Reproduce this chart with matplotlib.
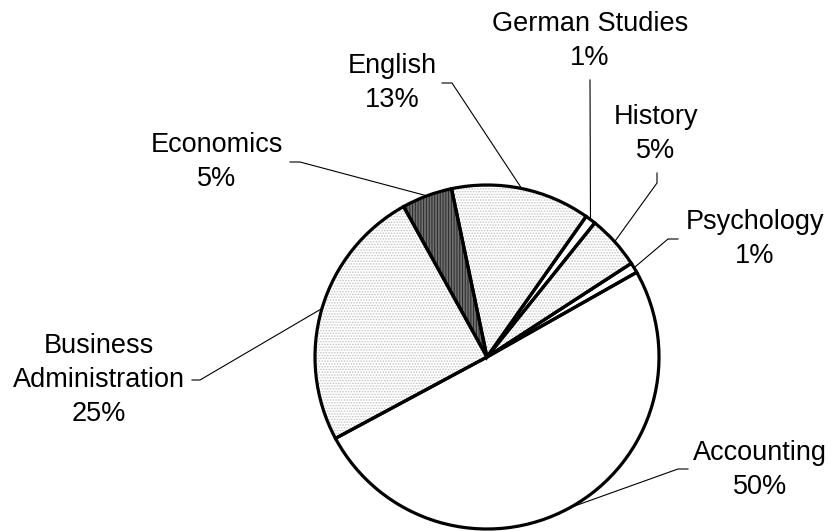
import numpy as np
import matplotlib
matplotlib.use("Agg")
import matplotlib.pyplot as plt
from matplotlib.patches import Wedge

# ---- data ----
majors = ["Accounting", "Business\nAdministration", "Economics", "English",
          "German Studies", "History", "Psychology"]
shares = [50.35, 24.79, 4.75, 13.08, 1.00, 5.06, 0.97]

# ---- styles / layout ----
W, H = 832, 531
fills = ["white", "white", "#6e6e6e", "white", "white", "white", "white"]
hatches = [None, "......", "||||||", "......", None, "......", None]
hatch_cols = [None, "#c2c2c2", "#2a2a2a", "#c2c2c2", None, "#c2c2c2", None]
center_px = (487, 357)
radius_px = 172
start_angle = 29.5

# text centre, line anchor, elbow (pixel coords, y downward)
label_layout = [
    ((760, 470), (688, 469), (678, 469)),
    ((99, 380), (192, 380), (200, 380)),
    ((217, 162), (290, 162), (300, 162)),
    ((392, 83), (442, 83), (452, 83)),
    ((590, 41), (590, 80), (590, 80)),
    ((656, 134), (657, 173), (657, 183)),
    ((755, 239), (678, 239), (668, 239)),
]

plt.rcParams['font.family'] = ['Liberation Sans', 'DejaVu Sans']
plt.rcParams['hatch.linewidth'] = 0.7

fig = plt.figure(figsize=(W / 100, H / 100), dpi=100)
ax = fig.add_axes([0, 0, 1, 1])

cx, cy = center_px[0], H - center_px[1]
wedges, _ = ax.pie(shares, startangle=start_angle, counterclock=False,
                   radius=radius_px, center=(cx, cy),
                   colors=fills,
                   wedgeprops=dict(edgecolor="black", linewidth=2.3))

# hatch overlays (drawn beneath outlines)
for w, h, hc in zip(wedges, hatches, hatch_cols):
    if h is None:
        continue
    ov = Wedge((cx, cy), radius_px, w.theta1, w.theta2, facecolor="none",
               edgecolor=hc, hatch=h, linewidth=0, zorder=w.get_zorder() + 0.1)
    ax.add_patch(ov)
# outlines on top
for w in wedges:
    ol = Wedge((cx, cy), radius_px, w.theta1, w.theta2, facecolor="none",
               edgecolor="black", linewidth=2.3, zorder=w.get_zorder() + 0.2)
    ax.add_patch(ol)
    w.set_edgecolor("none")

pcts = [round(s) for s in shares]
for w, name, p, (tpos, anc, elb) in zip(wedges, majors, pcts, label_layout):
    mid = np.deg2rad((w.theta1 + w.theta2) / 2)
    ex = cx + radius_px * np.cos(mid)
    ey = cy + radius_px * np.sin(mid)
    xs = [anc[0], elb[0], ex]
    ys = [H - anc[1], H - elb[1], ey]
    ax.plot(xs, ys, color="black", linewidth=0.8, zorder=1)
    ax.text(tpos[0], H - tpos[1], f"{name}\n{p}%", ha="center", va="center",
            multialignment="center", fontsize=19.5, linespacing=1.38,
            color="black")

ax.set_xlim(0, W)
ax.set_ylim(0, H)
ax.set_aspect("auto")
ax.axis("off")
fig.savefig("out.png", dpi=100)
